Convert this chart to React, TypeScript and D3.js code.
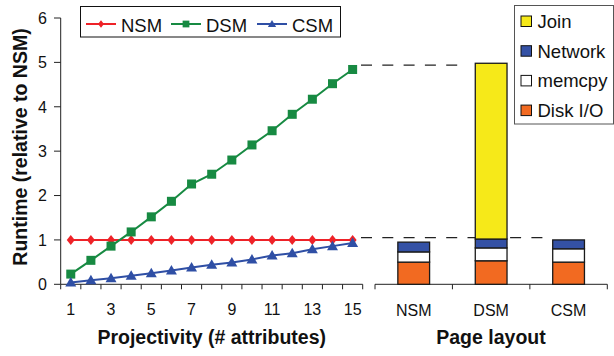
import React from "react";
import * as d3 from "d3";

const projectivity = ["1","2","3","4","5","6","7","8","9","10","11","12","13","14","15"];
const nsmRuntime = [1,1,1,1,1,1,1,1,1,1,1,1,1,1,1];
const dsmRuntime = [0.23,0.54,0.86,1.18,1.52,1.87,2.26,2.48,2.80,3.14,3.46,3.83,4.17,4.52,4.84];
const csmRuntime = [0.04,0.09,0.135,0.19,0.25,0.31,0.38,0.44,0.49,0.56,0.65,0.70,0.79,0.86,0.93];
const yTicks = [0,1,2,3,4,5,6];

const layouts = ["NSM","DSM","CSM"];
const diskIO = [0.50,0.53,0.50];
const memcpy = [0.23,0.29,0.30];
const network = [0.22,0.20,0.20];
const join = [0,3.96,0];
const guideLevels = [4.94,1.05];

const FONT = "'Liberation Sans', Arial, sans-serif";

const seriesLines = [
  { name: "NSM", values: nsmRuntime, color: "#ee2228", marker: "diamond" },
  { name: "DSM", values: dsmRuntime, color: "#178a42", marker: "square" },
  { name: "CSM", values: csmRuntime, color: "#2f4fa5", marker: "triangle" },
];

const stackKeys = [
  { key: "Disk I/O", values: diskIO, color: "#f26a21" },
  { key: "memcpy", values: memcpy, color: "#ffffff" },
  { key: "Network", values: network, color: "#3451a5" },
  { key: "Join", values: join, color: "#f6e919" },
];

function Marker({ type, x, y, color, s = 1 }: { type: string; x: number; y: number; color: string; s?: number }) {
  if (type === "square") return <rect x={x - 4.5 * s} y={y - 4.5 * s} width={9 * s} height={9 * s} fill={color} />;
  if (type === "diamond")
    return <path d={`M${x},${y - 5 * s}L${x + 4 * s},${y}L${x},${y + 5 * s}L${x - 4 * s},${y}Z`} fill={color} />;
  return <path d={`M${x},${y - 5.5 * s}L${x + 5.5 * s},${y + 4 * s}L${x - 5.5 * s},${y + 4 * s}Z`} fill={color} />;
}

export default function App() {
  const y = d3.scaleLinear().domain([0, 6]).range([284.3, 18]);
  const xl = d3.scaleBand().domain(projectivity).range([60.7, 362.7]);
  const xr = d3.scaleBand().domain(layouts).range([375, 607.3]).paddingInner(0.59).paddingOuter(0.295);
  const line = d3.line<number>().x((_, i) => xl(projectivity[i])! + xl.bandwidth() / 2).y((d) => y(d));

  const stackRows = layouts.map((l, i) => {
    const row: any = { layout: l };
    stackKeys.forEach((s) => (row[s.key] = s.values[i]));
    return row;
  });
  const stacked = d3.stack().keys(stackKeys.map((s) => s.key))(stackRows);

  const axisColor = "#222";
  const tickFont = 16;

  return (
    <svg width={614} height={356} style={{ position: "absolute", left: 0, top: 0, background: "#fff" }} fontFamily={FONT}>
      {/* y axis */}
      <line x1={60.7} x2={60.7} y1={y(6)} y2={y(0)} stroke={axisColor} />
      {yTicks.map((t) => (
        <g key={t}>
          <line x1={54} x2={60.7} y1={y(t)} y2={y(t)} stroke={axisColor} />
          <text x={47} y={y(t)} dy="0.36em" textAnchor="end" fontSize={tickFont} fill="#111">{t}</text>
        </g>
      ))}
      {/* left x axis */}
      <line x1={60.7} x2={362.7} y1={y(0)} y2={y(0)} stroke={axisColor} />
      {projectivity.concat(["end"]).map((p, i) => {
        const xx = i < projectivity.length ? xl(p)! : 362.7;
        return <line key={"t" + i} x1={xx} x2={xx} y1={y(0)} y2={y(0) + 5} stroke={axisColor} />;
      })}
      {projectivity.map((p, i) =>
        i % 2 === 0 ? (
          <text key={"l" + p} x={xl(p)! + xl.bandwidth() / 2} y={315} textAnchor="middle" fontSize={tickFont} fill="#111">{p}</text>
        ) : null
      )}

      {/* guide dashed lines */}
      {guideLevels.map((g, i) => (
        <line key={"g" + i} x1={361} x2={i === 0 ? 458 : 545} y1={y(g)} y2={y(g)} stroke="#222" strokeWidth={1.2} strokeDasharray="11 10.3" />
      ))}

      {/* right x axis */}
      <line x1={375} x2={607.3} y1={y(0)} y2={y(0)} stroke={axisColor} />
      {[375, 375 + 77.43, 375 + 154.87, 607.3].map((xx, i) => (
        <line key={"rt" + i} x1={xx} x2={xx} y1={y(0)} y2={y(0) + 5} stroke={axisColor} />
      ))}
      {layouts.map((l) => (
        <text key={l} x={xr(l)! + xr.bandwidth() / 2} y={315.5} textAnchor="middle" fontSize={tickFont} fill="#111">{l}</text>
      ))}

      {/* stacked bars */}
      {stacked.map((layer, li) =>
        layer.map((seg, i) =>
          seg[1] - seg[0] > 0 ? (
            <rect key={layer.key + i} x={xr(layouts[i])} width={xr.bandwidth()} y={y(seg[1])} height={y(seg[0]) - y(seg[1])}
              fill={stackKeys[li].color} stroke="#1a1a1a" strokeWidth={1.3} />
          ) : null
        )
      )}

      {/* lines */}
      {seriesLines.map((s) => (
        <g key={s.name}>
          <path d={line(s.values)!} fill="none" stroke={s.color} strokeWidth={2} />
          {s.values.map((v, i) => (
            <Marker key={i} type={s.marker} x={xl(projectivity[i])! + xl.bandwidth() / 2} y={y(v)} color={s.color} />
          ))}
        </g>
      ))}

      {/* left legend */}
      <rect x={80.5} y={6.5} width={260} height={30.5} fill="#fff" stroke="#111" />
      {seriesLines.map((s, i) => {
        const x0 = [86, 171, 257][i];
        return (
          <g key={"lg" + s.name}>
            <line x1={x0} x2={x0 + 30} y1={24} y2={24} stroke={s.color} strokeWidth={2} />
            <Marker type={s.marker} x={x0 + 15} y={24} color={s.color} s={0.75} />
            <text x={x0 + 35} y={31.5} fontSize={18.5} fill="#111">{s.name}</text>
          </g>
        );
      })}

      {/* right legend */}
      <rect x={514.5} y={5.5} width={99} height={118.5} fill="#fff" stroke="#555" />
      {[...stackKeys].reverse().map((s, i) => (
        <g key={"rl" + s.key}>
          <rect x={521} y={16 + i * 29.7} width={10.5} height={10.5} fill={s.color} stroke="#111" />
          <text x={537.5} y={27.8 + i * 29.7} fontSize={18.5} fill="#111">{s.key}</text>
        </g>
      ))}

      {/* axis titles */}
      <text transform="translate(27,147) rotate(-90)" textAnchor="middle" fontSize={19.5} fontWeight="bold" fill="#111">Runtime (relative to NSM)</text>
      <text x={211.7} y={344} textAnchor="middle" fontSize={19.5} fontWeight="bold" fill="#111">Projectivity (# attributes)</text>
      <text x={491} y={344} textAnchor="middle" fontSize={19.5} fontWeight="bold" fill="#111">Page layout</text>
    </svg>
  );
}
